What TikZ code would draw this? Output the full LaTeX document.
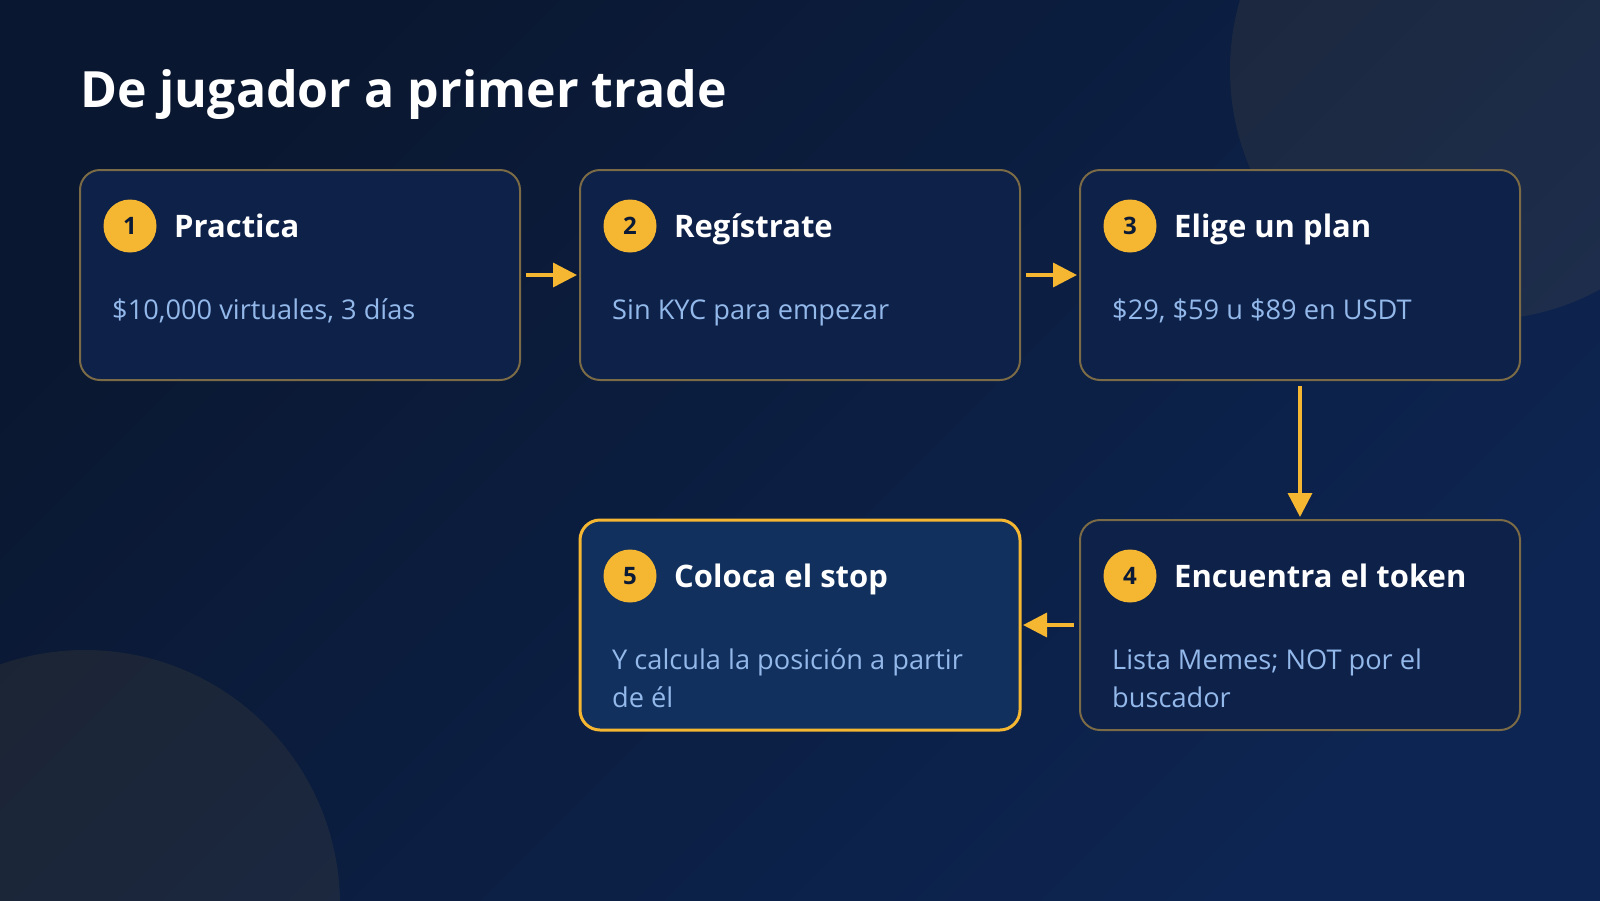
\documentclass[tikz,border=0pt]{standalone}
\usepackage{fontspec}
\IfFontExistsTF{Noto Sans Bold}
  {\setmainfont{Noto Sans}[BoldFont={Noto Sans Bold}]}
  {\setmainfont{Open Sans}}
\usetikzlibrary{arrows.meta,calc}
\definecolor{gold}{HTML}{F5B731}
\definecolor{bgA}{HTML}{0A1730}
\definecolor{bgB}{HTML}{0D2552}
\definecolor{boxfill}{HTML}{0E2149}
\definecolor{activefill}{HTML}{11305E}
\definecolor{boxline}{HTML}{7A6A45}
\definecolor{desc}{HTML}{93B8EA}
\definecolor{numtext}{HTML}{0B1A36}
\begin{document}
\begin{tikzpicture}[x=1pt,y=-1pt,
  stepbox/.style={draw=boxline, line width=2pt, fill=boxfill, rounded corners=20pt,
    minimum width=440pt, minimum height=210pt, anchor=north west, inner sep=0pt, outer sep=0pt},
  activebox/.style={stepbox, draw=gold, line width=3pt, fill=activefill},
  badge/.style={circle, fill=gold, minimum size=53pt, inner sep=0pt, text=numtext,
    font=\fontsize{24}{28}\selectfont\bfseries},
  steptitle/.style={anchor=base west, inner sep=0pt, text=white,
    font=\fontsize{31}{36}\selectfont\bfseries},
  stepdesc/.style={anchor=base west, inner sep=0pt, text=desc,
    font=\fontsize{27.2}{32}\selectfont},
  flow/.style={draw=gold, line width=3.5pt, -{Triangle[length=24pt,width=24pt]}},
  blob/.style={fill=gold, fill opacity=0.07}
]
\useasboundingbox (0,0) rectangle (1600,900);
\clip (0,0) rectangle (1600,900);
\shade[shading=axis, top color=bgA, bottom color=bgB, shading angle=45] (0,0) rectangle (1600,900);
\fill[blob] (1480,70) circle[radius=250pt];
\fill[blob] (85,905) circle[radius=255pt];

\node[anchor=base west, inner sep=0pt, text=white, font=\fontsize{50}{60}\selectfont\bfseries]
  (title) at (80,107) {De jugador a primer trade};

\node[stepbox] (b1) at (80,170) {};
\node[stepbox] (b2) at (580,170) {};
\node[stepbox] (b3) at (1080,170) {};
\node[stepbox] (b4) at (1080,520) {};
\node[activebox] (b5) at (580,520) {};

\node[badge] (n1) at ($(b1.north west)+(50,56)$) {1};
\node[steptitle] (t1) at ($(b1.north west)+(94,67)$) {Practica};
\node[stepdesc] (d1) at ($(b1.north west)+(32,149)$) {\$10,000 virtuales, 3 días};

\node[badge] (n2) at ($(b2.north west)+(50,56)$) {2};
\node[steptitle] (t2) at ($(b2.north west)+(94,67)$) {Regístrate};
\node[stepdesc] (d2) at ($(b2.north west)+(32,149)$) {Sin KYC para empezar};

\node[badge] (n3) at ($(b3.north west)+(50,56)$) {3};
\node[steptitle] (t3) at ($(b3.north west)+(94,67)$) {Elige un plan};
\node[stepdesc] (d3) at ($(b3.north west)+(32,149)$) {\$29, \$59 u \$89 en USDT};

\node[badge] (n4) at ($(b4.north west)+(50,56)$) {4};
\node[steptitle] (t4) at ($(b4.north west)+(94,67)$) {Encuentra el token};
\node[stepdesc] (d4a) at ($(b4.north west)+(32,149)$) {Lista Memes; NOT por el};
\node[stepdesc] (d4b) at ($(b4.north west)+(32,187)$) {buscador};

\node[badge] (n5) at ($(b5.north west)+(50,56)$) {5};
\node[steptitle] (t5) at ($(b5.north west)+(94,67)$) {Coloca el stop};
\node[stepdesc] (d5a) at ($(b5.north west)+(32,149)$) {Y calcula la posición a partir};
\node[stepdesc] (d5b) at ($(b5.north west)+(32,187)$) {de él};

\draw[flow] ([xshift=6pt]b1.east) -- ([xshift=-3pt]b2.west);
\draw[flow] ([xshift=6pt]b2.east) -- ([xshift=-3pt]b3.west);
\draw[flow] ([yshift=-6pt]b3.south) -- ([yshift=3pt]b4.north);
\draw[flow] ([xshift=-6pt]b4.west) -- ([xshift=3pt]b5.east);
\end{tikzpicture}
\end{document}
